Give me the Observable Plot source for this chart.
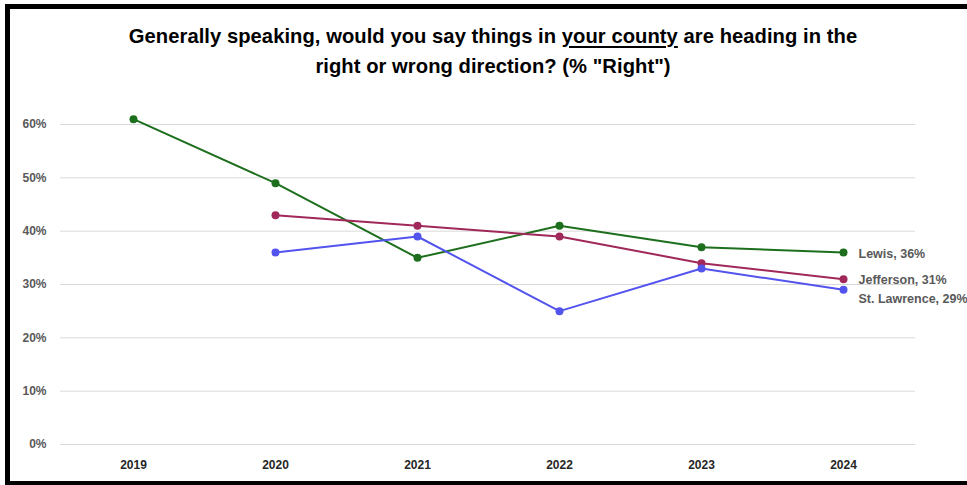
<!DOCTYPE html>
<html>
<head>
<meta charset="utf-8">
<script src="https://cdn.jsdelivr.net/npm/d3@7"></script>
<script src="https://cdn.jsdelivr.net/npm/@observablehq/plot@0.6"></script>
<style>
  html, body { margin: 0; padding: 0; background: #fff; overflow: hidden; }
  body { width: 967px; height: 485px; position: relative; }
  #frame { position: absolute; left: 5px; top: 4px; width: 990px; height: 472px; border: 5px solid #000; }
  #title { position: absolute; left: 0; top: 21px; width: 986px; text-align: center;
    font-family: "Liberation Sans", Arial, sans-serif; font-weight: bold;
    font-size: 20.2px; line-height: 30px; color: #000; letter-spacing: 0.05px; }
  #title u { text-decoration-thickness: 1.5px; text-underline-offset: 3px; }
  #chart { position: absolute; left: 0; top: 95px; }
</style>
</head>
<body>
<div id="frame"></div>
<div id="title">Generally speaking, would you say things in <u>your county</u> are heading in the<br>right or wrong direction? (% "Right")</div>
<div id="chart"></div>
<script>
const years = ["2019", "2020", "2021", "2022", "2023", "2024"];
const seriesNames = ["Lewis", "Jefferson", "St. Lawrence"];
const lewis = [61, 49, 35, 41, 37, 36];
const jefferson = [null, 43, 41, 39, 34, 31];
const stLawrence = [null, 36, 39, 25, 33, 29];
const yTicks = [0, 10, 20, 30, 40, 50, 60];
const colors = ["#1d6f1d", "#a0285a", "#5353ee"];

const valuesBySeries = [lewis, jefferson, stLawrence];
const data = [];
seriesNames.forEach((s, si) => {
  valuesBySeries[si].forEach((v, i) => {
    if (v != null) data.push({series: s, year: years[i], value: v});
  });
});
const last = seriesNames.map((s, si) => {
  const arr = valuesBySeries[si];
  return {series: s, year: years[arr.length - 1], value: arr[arr.length - 1]};
});

const font = '"Liberation Sans", Arial, sans-serif';
const labelText = d => `${d.series}, ${d.value}%`;

const chart = Plot.plot({
  width: 967,
  height: 385,
  marginLeft: 60,
  marginRight: 52,
  marginTop: 29,
  marginBottom: 36,
  style: {fontFamily: font, fontSize: "12px", fontWeight: "bold", color: "#595959", background: "transparent"},
  x: {type: "point", domain: years, padding: 0.5, label: null},
  y: {domain: [0, 60], label: null},
  color: {domain: seriesNames, range: colors},
  marks: [
    Plot.ruleY(yTicks, {stroke: "#d9d9d9", strokeWidth: 1}),
    Plot.axisY(yTicks, {tickSize: 0, tickPadding: 14, tickFormat: d => d + "%", fill: "#595959", fontWeight: "bold"}),
    Plot.axisX({tickSize: 0, tickPadding: 16, fill: "#262626", fontWeight: "bold"}),
    Plot.line(data, {x: "year", y: "value", z: "series", stroke: "series", strokeWidth: 2}),
    Plot.dot(data, {x: "year", y: "value", fill: "series", r: 4}),
    Plot.text(last.filter(d => d.series !== "St. Lawrence"), {x: "year", y: "value", text: labelText,
      textAnchor: "start", dx: 15, dy: 1, fill: "#595959", fontWeight: "bold", fontSize: 12.5}),
    Plot.text(last.filter(d => d.series === "St. Lawrence"), {x: "year", y: "value", text: labelText,
      textAnchor: "start", dx: 15, dy: 9, fill: "#595959", fontWeight: "bold", fontSize: 12.5})
  ]
});
document.getElementById("chart").appendChild(chart);
</script>
</body>
</html>
